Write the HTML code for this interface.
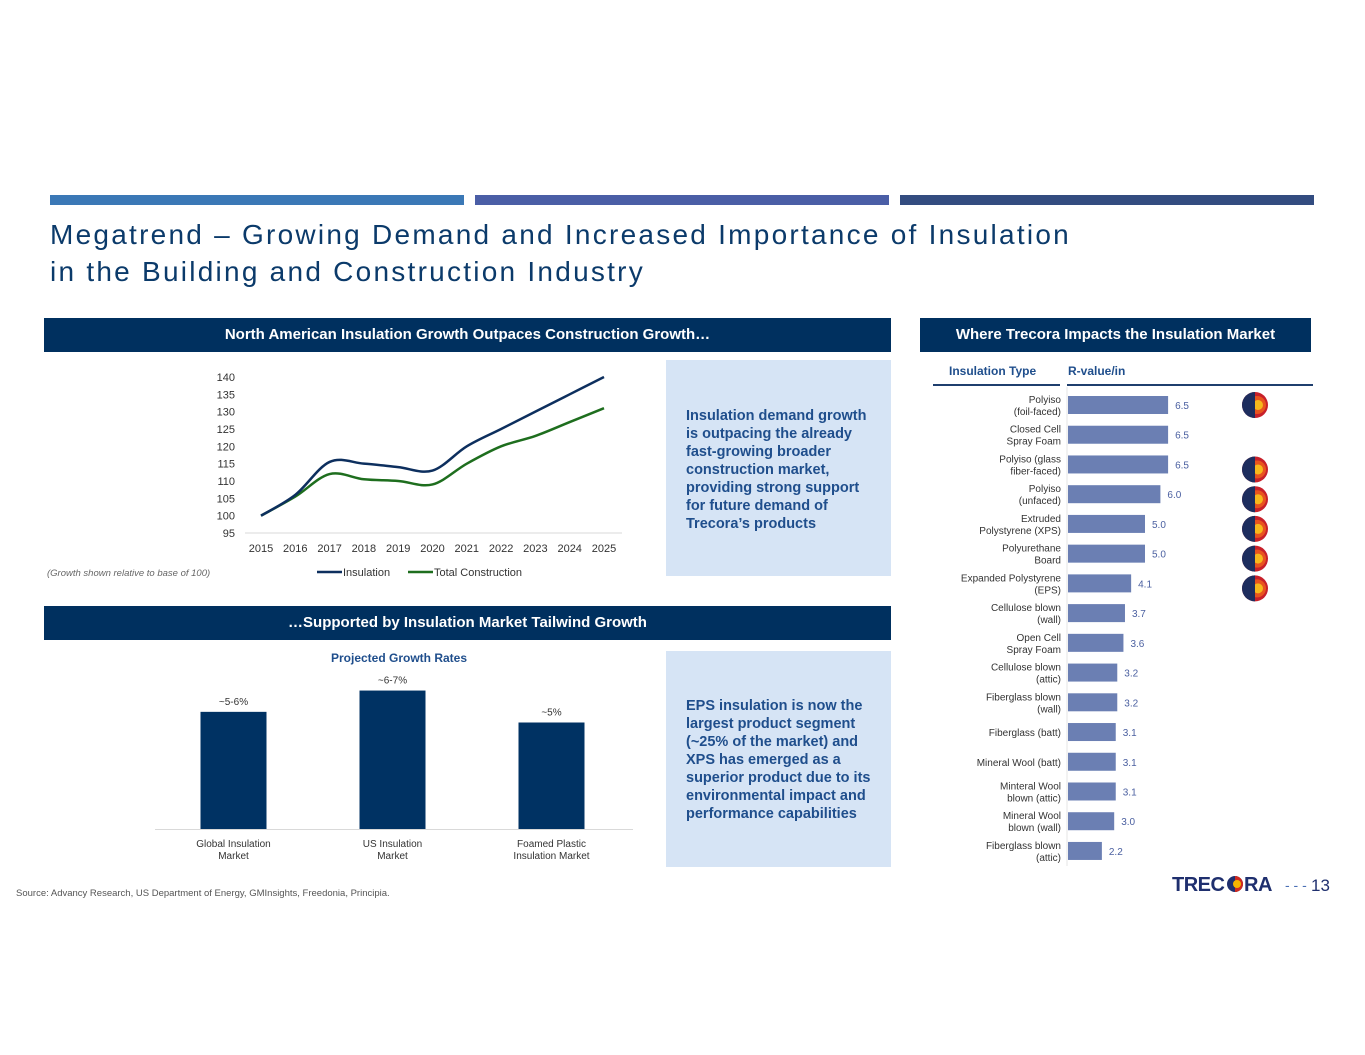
<!DOCTYPE html>
<html><head><meta charset="utf-8"><style>
body{margin:0;width:1365px;height:1055px;background:#fff;font-family:"Liberation Sans",sans-serif;position:relative;overflow:hidden}
.a{position:absolute}
.hdr{position:absolute;background:#00305f;color:#fff;font-weight:bold;font-size:15px;text-align:center;line-height:34px;height:34px}
.box{position:absolute;background:#d6e4f5;color:#1f4e8c;font-weight:bold;font-size:14.5px;line-height:18px;padding:0 20px;box-sizing:border-box}
svg text{font-family:"Liberation Sans",sans-serif}
</style></head><body>
<div class="a" style="left:50px;top:195px;width:414px;height:10px;background:#3b78b6"></div>
<div class="a" style="left:475px;top:195px;width:414px;height:10px;background:#4a5ea6"></div>
<div class="a" style="left:900px;top:195px;width:414px;height:10px;background:#334c80"></div>
<div class="a" style="left:50px;top:216px;font-size:28px;line-height:37px;color:#0b3a6a;letter-spacing:2.25px;white-space:nowrap">Megatrend – Growing Demand and Increased Importance of Insulation<br>in the Building and Construction Industry</div>

<div class="hdr" style="left:44px;top:318px;width:847px">North American Insulation Growth Outpaces Construction Growth…</div>
<div class="hdr" style="left:920px;top:318px;width:391px">Where Trecora Impacts the Insulation Market</div>
<div class="hdr" style="left:44px;top:606px;width:847px">…Supported by Insulation Market Tailwind Growth</div>

<div class="box" style="left:666px;top:360px;width:225px;height:216px;padding-top:47px">Insulation demand growth is outpacing the already fast-growing broader construction market, providing strong support for future demand of Trecora’s products</div>
<div class="box" style="left:666px;top:651px;width:225px;height:216px;padding-top:46px">EPS insulation is now the largest product segment (~25% of the market) and XPS has emerged as a superior product due to its environmental impact and performance capabilities</div>

<div class="a" style="left:47px;top:568px;font-size:9.5px;font-style:italic;color:#666">(Growth shown relative to base of 100)</div>
<div class="a" style="left:16px;top:888px;font-size:9.5px;color:#555">Source: Advancy Research, US Department of Energy, GMInsights, Freedonia, Principia.</div>

<svg class="a" style="left:0;top:0" width="1365" height="1055" id="svg">
<g id="line"></g><g id="bars"></g><g id="rbars"></g>
<g>
<text x="1172" y="891" font-size="20" font-weight="bold" fill="#1f2f6e" letter-spacing="-0.5">TREC</text>
<circle cx="1235" cy="884" r="8" fill="#1f2f6e"/><path d="M1235 876 A8 8 0 0 1 1235 892Z" fill="#d02a1f"/><circle cx="1237" cy="884" r="4" fill="#f5b400"/>
<text x="1244" y="891" font-size="20" font-weight="bold" fill="#1f2f6e" letter-spacing="-0.5">RA</text>
<text x="1285" y="890" font-size="14" fill="#4a6fb5">- - -</text>
<text x="1311" y="891" font-size="17" fill="#1f2f6e">13</text>
</g>
</svg>
<script>
const NS="http://www.w3.org/2000/svg";
function mk(p,t,a,txt){const e=document.createElementNS(NS,t);for(const k in a)e.setAttribute(k,a[k]);if(txt!=null)e.textContent=txt;p.appendChild(e);return e;}
// line chart data
const years=["2015","2016","2017","2018","2019","2020","2021","2022","2023","2024","2025"];
const insulation=[100,106,115.5,115,114,113,120,125,130,135,140];
const construction=[100,105.5,112,110.5,110,109,115,120,123,127,131];
const yTicks=[95,100,105,110,115,120,125,130,135,140];
// bar chart
const growthCats=[["Global Insulation","Market"],["US Insulation","Market"],["Foamed Plastic","Insulation Market"]];
const growthVals=[5.5,6.5,5.0];
const growthLabels=["~5-6%","~6-7%","~5%"];
// r-value
const types=[["Polyiso","(foil-faced)"],["Closed Cell","Spray Foam"],["Polyiso (glass","fiber-faced)"],["Polyiso","(unfaced)"],["Extruded","Polystyrene (XPS)"],["Polyurethane","Board"],["Expanded Polystyrene","(EPS)"],["Cellulose blown","(wall)"],["Open Cell","Spray Foam"],["Cellulose blown","(attic)"],["Fiberglass blown","(wall)"],["Fiberglass (batt)"],["Mineral Wool (batt)"],["Minteral Wool","blown (attic)"],["Mineral Wool","blown (wall)"],["Fiberglass blown","(attic)"]];
const rvals=[6.5,6.5,6.5,6.0,5.0,5.0,4.1,3.7,3.6,3.2,3.2,3.1,3.1,3.1,3.0,2.2];
const trecora=[1,0,1,1,1,1,1,0,0,0,0,0,0,0,0,0];

// line chart
const L=document.getElementById('line');
const lx=i=>261+i*34.3, ly=v=>533-(v-95)*3.467;
mk(L,'line',{x1:245,x2:622,y1:533,y2:533,stroke:'#d9d9d9'});
yTicks.forEach(t=>{const e=mk(L,'text',{x:235,y:ly(t)+4,'font-size':11,'text-anchor':'end',fill:'#333'},t);});
years.forEach((y,i)=>{const e=mk(L,'text',{x:lx(i),y:552,'font-size':11,'text-anchor':'middle',fill:'#333'},y);});
function smooth(vals){let d=`M${lx(0)},${ly(vals[0])}`;for(let i=0;i<vals.length-1;i++){const p0=[lx(Math.max(i-1,0)),ly(vals[Math.max(i-1,0)])],p1=[lx(i),ly(vals[i])],p2=[lx(i+1),ly(vals[i+1])],p3=[lx(Math.min(i+2,vals.length-1)),ly(vals[Math.min(i+2,vals.length-1)])];const c1=[p1[0]+(p2[0]-p0[0])/6,p1[1]+(p2[1]-p0[1])/6],c2=[p2[0]-(p3[0]-p1[0])/6,p2[1]-(p3[1]-p1[1])/6];d+=` C${c1} ${c2} ${p2}`;}return d;}
let p=mk(L,'path',{d:smooth(construction),fill:'none',stroke:'#1e6e1e','stroke-width':2.5});

p=mk(L,'path',{d:smooth(insulation),fill:'none',stroke:'#0d2f5e','stroke-width':2.5});

mk(L,'line',{x1:317,x2:342,y1:572,y2:572,stroke:'#0d2f5e','stroke-width':2.5});
let t=mk(L,'text',{x:343,y:576,'font-size':11,fill:'#333'},'Insulation');
mk(L,'line',{x1:408,x2:433,y1:572,y2:572,stroke:'#1e6e1e','stroke-width':2.5});
t=mk(L,'text',{x:434,y:576,'font-size':11,fill:'#333'},'Total Construction');

// bar chart
const B=document.getElementById('bars');
t=mk(B,'text',{x:399,y:662,'font-size':12,'font-weight':'bold','text-anchor':'middle',fill:'#1f4e8c'},'Projected Growth Rates');
mk(B,'line',{x1:155,x2:633,y1:829.5,y2:829.5,stroke:'#d9d9d9'});
const bx=i=>233.5+i*159, by=v=>829-v*21.3;
growthVals.forEach((v,i)=>{const r=mk(B,'rect',{x:bx(i)-33,y:by(v),width:66,height:829-by(v),fill:'#003263'});
const l=mk(B,'text',{x:bx(i),y:by(v)-7,'font-size':10,'text-anchor':'middle',fill:'#333'},growthLabels[i]);
growthCats[i].forEach((s,j)=>{const c=mk(B,'text',{x:bx(i),y:847+j*12,'font-size':10,'text-anchor':'middle',fill:'#333'},s);});});

// r-value chart
const R=document.getElementById('rbars');
t=mk(R,'text',{x:949,y:375,'font-size':12,'font-weight':'bold',fill:'#1f4e8c'},'Insulation Type');
t=mk(R,'text',{x:1068,y:375,'font-size':12,'font-weight':'bold',fill:'#1f4e8c'},'R-value/in');
mk(R,'line',{x1:933,x2:1060,y1:385,y2:385,stroke:'#1f3f6e','stroke-width':2});
mk(R,'line',{x1:1067,x2:1313,y1:385,y2:385,stroke:'#1f3f6e','stroke-width':2});
mk(R,'line',{x1:1067,x2:1067,y1:387,y2:866,stroke:'#e6e6e6'});
const ry=i=>405+i*29.73, rw=v=>v*15.4;
rvals.forEach((v,i)=>{const y=ry(i);
const r=mk(R,'rect',{x:1068,y:y-9,width:rw(v),height:18,fill:'#6b7fb3'});
const l=mk(R,'text',{x:1068+rw(v)+7,y:y+4,'font-size':10,fill:'#4a5fa0'},v.toFixed(1));
const lines=types[i];lines.forEach((s,j)=>{const c=mk(R,'text',{x:1061,y:y+4+(j-(lines.length-1)/2)*12,'font-size':10,'text-anchor':'end',fill:'#333'},s);});
if(trecora[i]){const g=mk(R,'g',{});const cy=i==0?y:y+5;
mk(g,'circle',{cx:1255,cy:cy,r:13,fill:'#c8202a'});mk(g,'circle',{cx:1257,cy:cy,r:9,fill:'#e8541e'});mk(g,'circle',{cx:1258,cy:cy,r:5,fill:'#f6b81c'});mk(g,'path',{d:`M1255 ${cy-13} A13 13 0 0 0 1255 ${cy+13}Z`,fill:'#1d2d5e'});}
});
</script>
</body></html>
